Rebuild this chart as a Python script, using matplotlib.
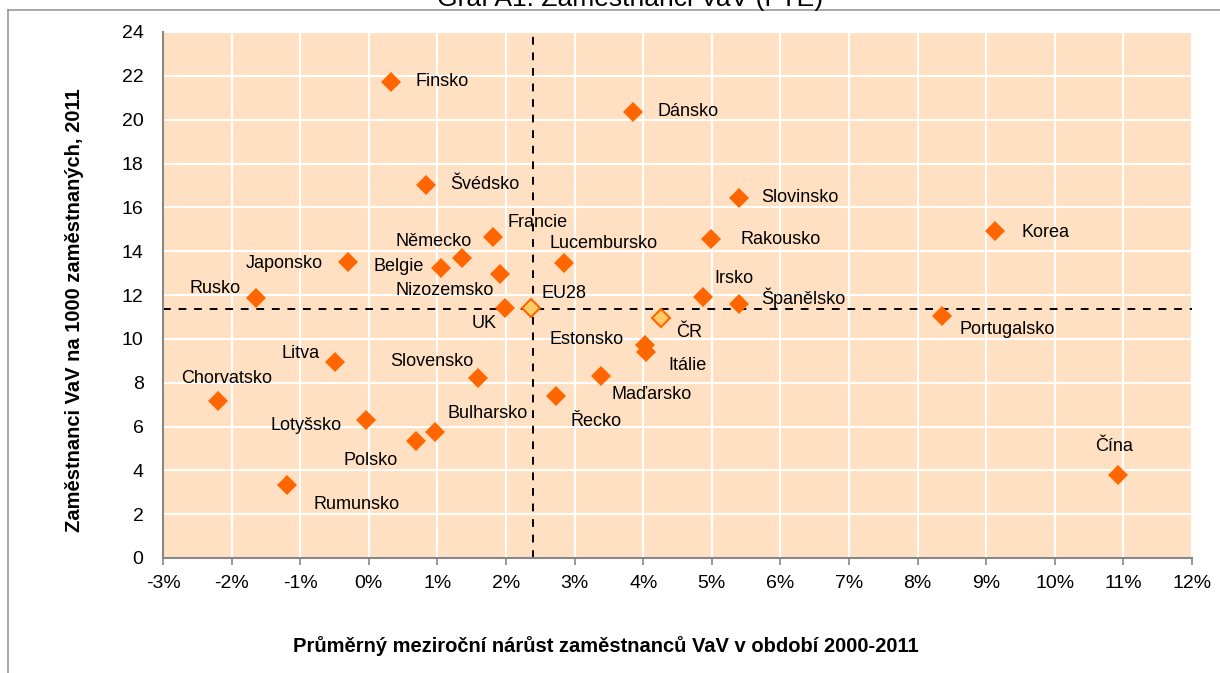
import matplotlib.pyplot as plt
from matplotlib.lines import Line2D
from matplotlib.ticker import FuncFormatter, MultipleLocator

plt.rcParams['font.family'] = ['Liberation Sans', 'DejaVu Sans']

# data
countries = ['Finsko', 'Dánsko', 'Švédsko', 'Slovinsko', 'Korea', 'Francie', 'Rakousko',
             'Německo', 'Japonsko', 'Lucembursko', 'Belgie', 'Nizozemsko', 'Rusko', 'Irsko',
             'Španělsko', 'UK', 'Portugalsko', 'Estonsko', 'Itálie', 'Litva', 'Maďarsko',
             'Slovensko', 'Řecko', 'Chorvatsko', 'Lotyšsko', 'Bulharsko', 'Polsko', 'Čína',
             'Rumunsko']
growth = [0.32, 3.85, 0.83, 5.40, 9.13, 1.81, 4.99, 1.36, -0.30, 2.85, 1.05, 1.91, -1.64,
          4.87, 5.40, 1.99, 8.36, 4.03, 4.04, -0.49, 3.38, 1.59, 2.73, -2.20, -0.04, 0.97,
          0.69, 10.92, -1.19]
staff = [21.73, 20.37, 17.03, 16.44, 14.93, 14.66, 14.57, 13.70, 13.52, 13.47, 13.24, 12.97,
         11.87, 11.92, 11.60, 11.42, 11.05, 9.73, 9.41, 8.95, 8.31, 8.22, 7.40, 7.17, 6.30,
         5.75, 5.34, 3.79, 3.33]

highlight = ['EU28', 'ČR']
highlight_growth = [2.36, 4.26]
highlight_staff = [11.42, 10.96]

eu_growth = 2.39
eu_staff = 11.37

# label placement (offset in px, horizontal alignment)
label_pos = {
    'Finsko': (25, 0, 'left'), 'Dánsko': (25, 0, 'left'), 'Švédsko': (24, 0, 'left'),
    'Slovinsko': (22, 0, 'left'), 'Korea': (26, -2, 'left'), 'Francie': (15, 14, 'left'),
    'Rakousko': (29, -1, 'left'), 'Německo': (-28, 16, 'center'), 'Japonsko': (-25, -2, 'right'),
    'Lucembursko': (39, 19, 'center'), 'Belgie': (-17, 1, 'right'), 'Nizozemsko': (-6, -17, 'right'),
    'Rusko': (-16, 9, 'right'), 'Irsko': (11, 18, 'left'), 'Španělsko': (22, 6, 'left'),
    'UK': (-9, -16, 'right'), 'Portugalsko': (17, -14, 'left'), 'Estonsko': (-22, 5, 'right'),
    'Itálie': (22, -14, 'left'), 'Litva': (-16, 8, 'right'), 'Maďarsko': (11, -19, 'left'),
    'Slovensko': (-4, 16, 'right'), 'Řecko': (14, -26, 'left'), 'Chorvatsko': (9, 22, 'center'),
    'Lotyšsko': (-24, -6, 'right'), 'Bulharsko': (12, 18, 'left'), 'Polsko': (-18, -20, 'right'),
    'Čína': (-4, 28, 'center'), 'Rumunsko': (26, -19, 'left'),
    'EU28': (11, 14, 'left'), 'ČR': (15, -15, 'left'),
}

fig = plt.figure(figsize=(12.2, 6.73), dpi=100)
ax = fig.add_axes([163 / 1220, 1 - 558 / 673, (1192 - 163) / 1220, (558 - 32) / 673])
ax.set_facecolor('#FFE0C2')

ax.set_xlim(-3, 12)
ax.set_ylim(0, 24)
ax.xaxis.set_major_locator(MultipleLocator(1))
ax.yaxis.set_major_locator(MultipleLocator(2))
ax.xaxis.set_major_formatter(FuncFormatter(lambda v, p: '%d%%' % round(v)))
ax.grid(True, color='white', linewidth=1.5)
ax.set_axisbelow(True)

for s in ['top', 'right']:
    ax.spines[s].set_visible(False)
for s in ['left', 'bottom']:
    ax.spines[s].set_color('#888888')
    ax.spines[s].set_linewidth(1.5)
ax.tick_params(axis='x', colors='#888888', labelcolor='black', labelsize=14, length=5, width=1.2, pad=7)
ax.tick_params(axis='y', length=0, labelsize=14, pad=14)

ax.axvline(eu_growth, color='black', linestyle=(0, (4, 4)), linewidth=1.4, zorder=2)
ax.axhline(eu_staff, color='black', linestyle=(0, (4, 4)), linewidth=1.4, zorder=2)

ax.plot(growth, staff, linestyle='none', marker='D', markersize=10, color='#FF6600',
        markeredgewidth=0, zorder=3)
ax.plot(highlight_growth, highlight_staff, linestyle='none', marker='D', markersize=9,
        markerfacecolor='#FFCC66', markeredgecolor='#FF6600', markeredgewidth=1.5, zorder=4)

for name, xv, yv in zip(countries + highlight, growth + highlight_growth, staff + highlight_staff):
    dx, dy, ha = label_pos[name]
    ax.annotate(name, (xv, yv), xytext=(dx * 0.72, dy * 0.72), textcoords='offset points',
                ha=ha, va='center', fontsize=13, zorder=5)

fig.text(75 / 1220, 1 - 310 / 673, 'Zaměstnanci VaV na 1000 zaměstnaných, 2011',
         rotation=90, ha='center', va='center', fontsize=14.5, fontweight='bold')
fig.text(606 / 1220, 1 - 646 / 673, 'Průměrný meziroční nárůst zaměstnanců VaV v období 2000-2011',
         ha='center', va='center', fontsize=14.5, fontweight='bold')
fig.text(630 / 1220, 1 - 6 / 673, 'Graf A1: Zaměstnanci VaV (FTE)', ha='center', va='baseline',
         fontsize=19)

fig.add_artist(Line2D([8 / 1220, 1], [1 - 10 / 673, 1 - 10 / 673], color='#999999', linewidth=1.2))
fig.add_artist(Line2D([8 / 1220, 8 / 1220], [0, 1 - 10 / 673], color='#999999', linewidth=1.2))

fig.savefig('out.png', dpi=100)
